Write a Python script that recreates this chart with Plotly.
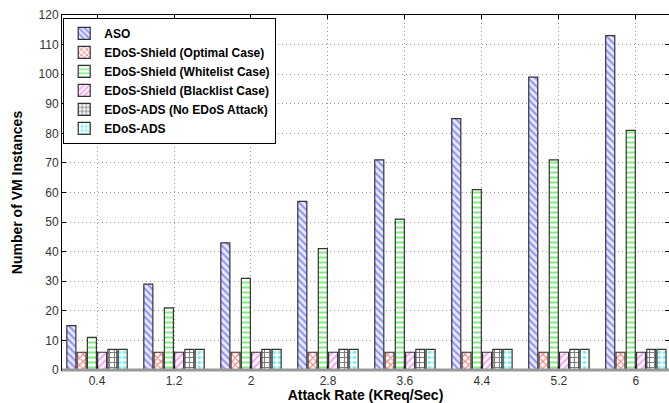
import plotly.graph_objects as go

categories = ["0.4", "1.2", "2", "2.8", "3.6", "4.4", "5.2", "6"]
aso = [15, 29, 43, 57, 71, 85, 99, 113]
shield_optimal = [6, 6, 6, 6, 6, 6, 6, 6]
shield_whitelist = [11, 21, 31, 41, 51, 61, 71, 81]
shield_blacklist = [6, 6, 6, 6, 6, 6, 6, 6]
ads_no_attack = [7, 7, 7, 7, 7, 7, 7, 7]
ads = [7, 7, 7, 7, 7, 7, 7, 7]

series = [
    ("ASO", aso, "\\", "#3333ff", "#e8e8ff"),
    ("EDoS-Shield (Optimal Case)", shield_optimal, "x", "#ff0000", "#ffffff"),
    ("EDoS-Shield (Whitelist Case)", shield_whitelist, "-", "#00dd00", "#ffffff"),
    ("EDoS-Shield (Blacklist Case)", shield_blacklist, "/", "#ff33ff", "#ffffff"),
    ("EDoS-ADS (No EDoS Attack)", ads_no_attack, "+", "#000000", "#ffffff"),
    ("EDoS-ADS", ads, ".", "#00e5e5", "#ffffff"),
]

fig = go.Figure()
for name, vals, shape, fg, bg in series:
    fig.add_trace(go.Bar(
        x=categories, y=vals, name="<b>" + name + "</b>",
        marker=dict(color=bg, line=dict(color="#333333", width=1.2),
                    pattern=dict(shape=shape, fgcolor=fg, bgcolor=bg, size=5, solidity=0.4)),
    ))

fig.update_layout(
    width=669, height=403,
    margin=dict(l=62, r=0, t=15, b=33),
    paper_bgcolor="white", plot_bgcolor="white",
    barmode="group", bargap=0.2, bargroupgap=0.12,
    font=dict(family="Arial, Liberation Sans", size=12, color="#333333"),
    legend=dict(x=0.002, y=0.992, xanchor="left", yanchor="top",
                bgcolor="white", bordercolor="#000000", borderwidth=1,
                font=dict(family="Arial, Liberation Sans", size=12, color="#000000"),
                tracegroupgap=0, itemwidth=30),
    showlegend=True,
)
fig.update_xaxes(
    type="category", range=[-0.455, 7.43],
    showline=True, linecolor="#000000", linewidth=1, mirror="ticks",
    ticks="inside", ticklen=4, tickcolor="#000000",
    showgrid=True, gridcolor="#999999", griddash="1px,3px", gridwidth=1,
    title=dict(text="<b>Attack Rate (KReq/Sec)</b>", standoff=2,
               font=dict(size=14, color="#000000")),
    tickfont=dict(size=12, color="#333333"),
)
fig.update_yaxes(
    range=[0, 120], dtick=10, tick0=0,
    showline=True, linecolor="#000000", linewidth=1, mirror="ticks",
    ticks="inside", ticklen=4, tickcolor="#000000",
    showgrid=True, gridcolor="#999999", griddash="1px,3px", gridwidth=1,
    zeroline=False,
    title=dict(text="<b>Number of VM Instances</b>", standoff=12,
               font=dict(size=14, color="#000000")),
    tickfont=dict(size=12, color="#333333"),
)
# thick grey baseline as in the reference
fig.add_shape(type="line", xref="paper", yref="paper", x0=0, x1=1, y0=0, y1=0,
              line=dict(color="#999999", width=3))

fig.write_html("out.html")
